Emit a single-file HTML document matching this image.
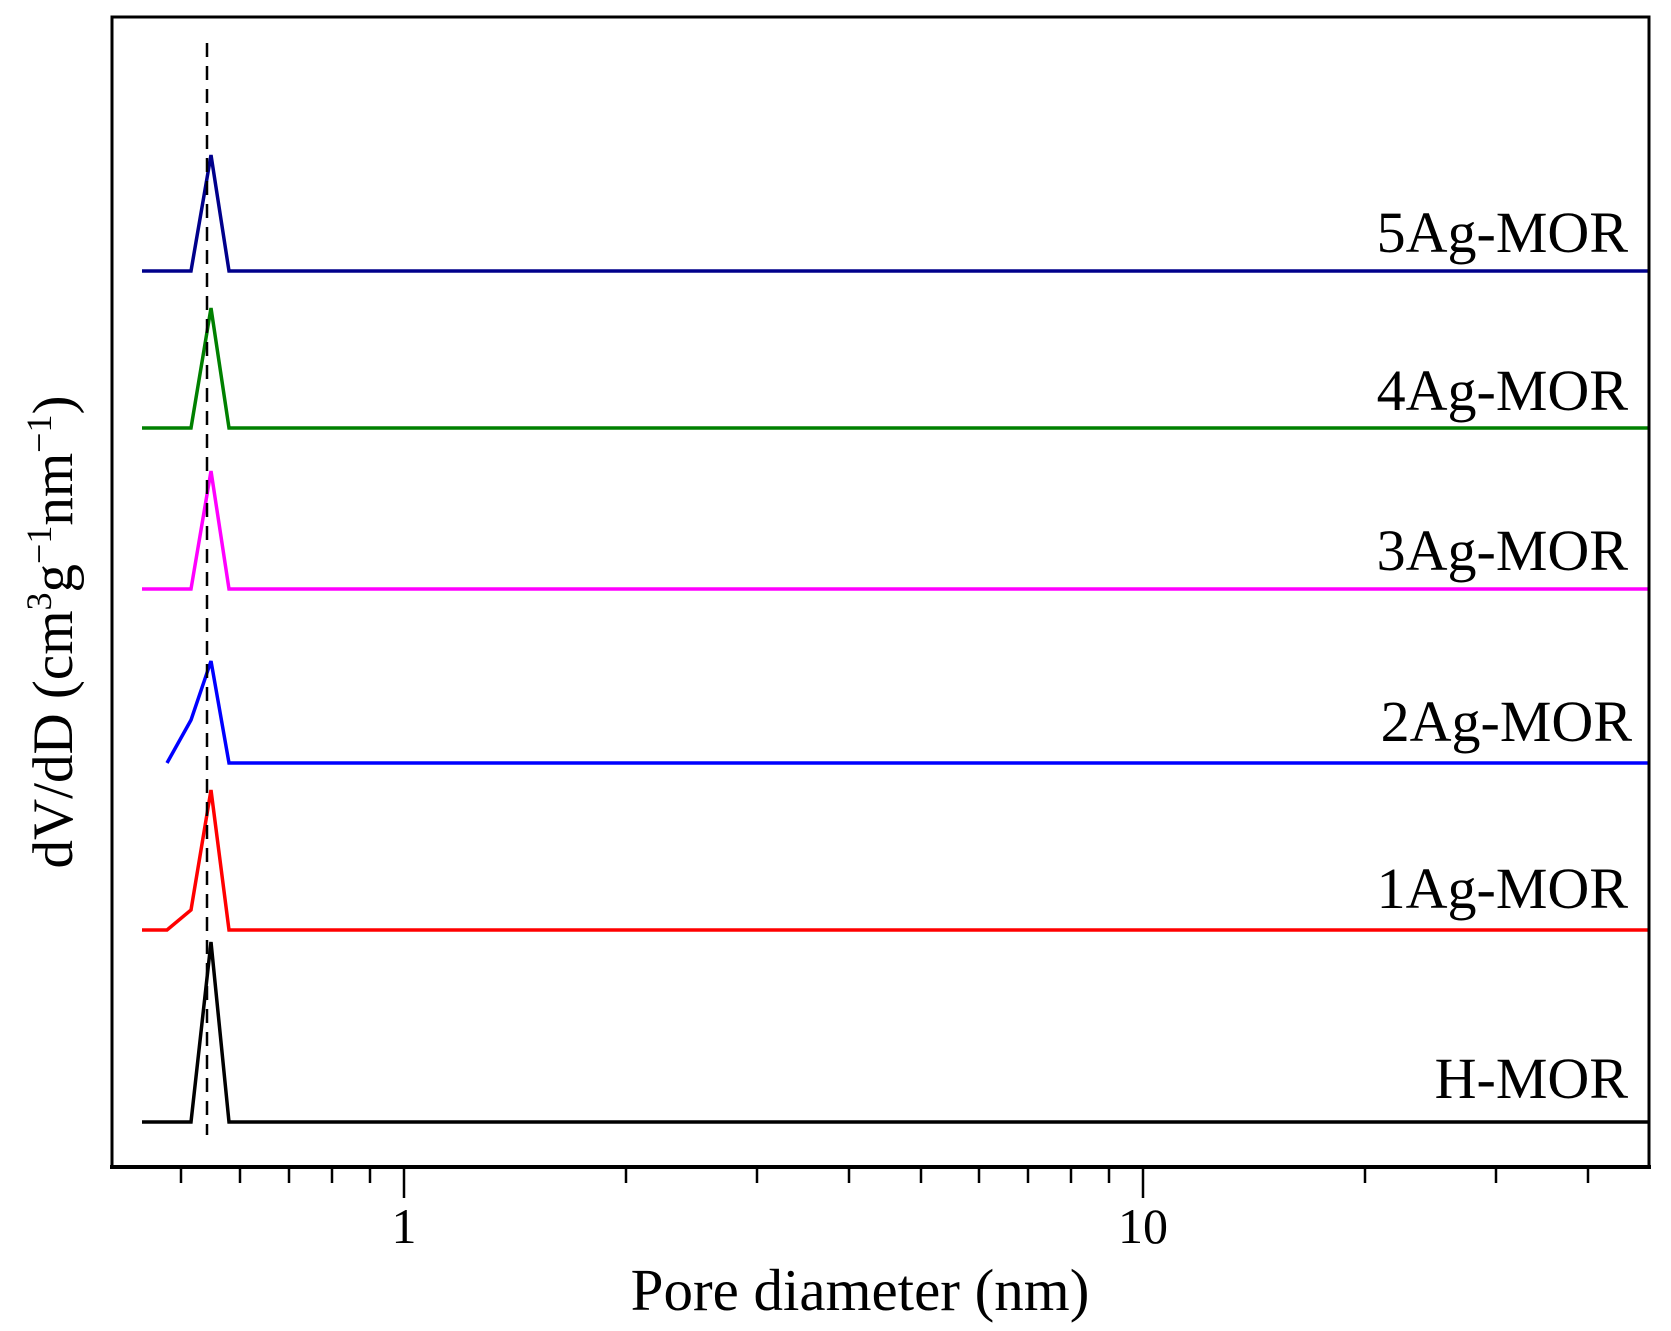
<!DOCTYPE html>
<html><head><meta charset="utf-8"><style>html,body{margin:0;padding:0;background:#fff}svg{display:block}</style></head>
<body>
<svg width="1671" height="1331" viewBox="0 0 1671 1331" xmlns="http://www.w3.org/2000/svg" font-family="'Liberation Serif', serif">
<rect width="1671" height="1331" fill="#fff"/>
<g fill="none" stroke-width="3.5" stroke-linejoin="miter">
<polyline stroke="#00008b" points="142,271 191,271 211,155 229,271 1649,271"/>
<polyline stroke="#008000" points="142,428 191,428 211,308 229,428 1649,428"/>
<polyline stroke="#ff00ff" points="142,589 191,589 211,471 229,589 1649,589"/>
<polyline stroke="#0000ff" points="167,763 191,720 211,661 229,763 1649,763"/>
<polyline stroke="#ff0000" points="142,930 167,930 191,910 211,790 229,930 1649,930"/>
<polyline stroke="#000000" points="142,1122 191,1122 211,942 229,1122 1649,1122"/>
</g>
<line x1="207" y1="43" x2="207" y2="1135" stroke="#000" stroke-width="2.5" stroke-dasharray="14,9"/>
<rect x="112" y="17" width="1537" height="1150" fill="none" stroke="#000" stroke-width="3"/>
<line x1="110" y1="1167" x2="1651" y2="1167" stroke="#000" stroke-width="4"/>
<g stroke="#000" stroke-width="2.5">
<line x1="404" y1="1167" x2="404" y2="1198"/>
<line x1="1143" y1="1167" x2="1143" y2="1198"/>
<line x1="181" y1="1167" x2="181" y2="1183"/>
<line x1="240" y1="1167" x2="240" y2="1183"/>
<line x1="289" y1="1167" x2="289" y2="1183"/>
<line x1="332" y1="1167" x2="332" y2="1183"/>
<line x1="370" y1="1167" x2="370" y2="1183"/>
<line x1="626" y1="1167" x2="626" y2="1183"/>
<line x1="757" y1="1167" x2="757" y2="1183"/>
<line x1="849" y1="1167" x2="849" y2="1183"/>
<line x1="921" y1="1167" x2="921" y2="1183"/>
<line x1="979" y1="1167" x2="979" y2="1183"/>
<line x1="1028" y1="1167" x2="1028" y2="1183"/>
<line x1="1071" y1="1167" x2="1071" y2="1183"/>
<line x1="1109" y1="1167" x2="1109" y2="1183"/>
<line x1="1365" y1="1167" x2="1365" y2="1183"/>
<line x1="1496" y1="1167" x2="1496" y2="1183"/>
<line x1="1588" y1="1167" x2="1588" y2="1183"/>
</g>
<g font-size="50" text-anchor="middle" fill="#000">
<text x="404" y="1243">1</text>
<text x="1143" y="1243">10</text>
</g>
<text x="860" y="1310" font-size="59" text-anchor="middle">Pore diameter (nm)</text>
<text transform="translate(72,632) rotate(-90)" font-size="57" text-anchor="middle">dV/dD (cm<tspan font-size="36" dy="-21">3</tspan><tspan dy="21">g</tspan><tspan font-size="36" dy="-21">−1</tspan><tspan dy="21">nm</tspan><tspan font-size="36" dy="-21">−1</tspan><tspan dy="21">)</tspan></text>
<g font-size="58" text-anchor="end" fill="#000">
<text x="1628" y="252">5Ag-MOR</text>
<text x="1628" y="410">4Ag-MOR</text>
<text x="1628" y="570">3Ag-MOR</text>
<text x="1632" y="741">2Ag-MOR</text>
<text x="1628" y="908">1Ag-MOR</text>
<text x="1628" y="1098">H-MOR</text>
</g>
</svg>
</body></html>
